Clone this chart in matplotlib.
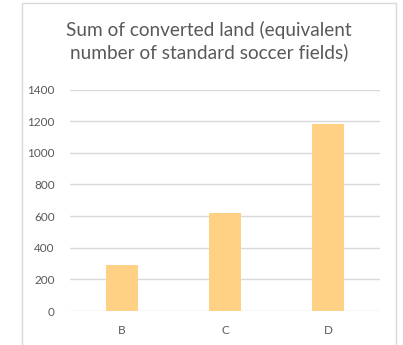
import matplotlib
matplotlib.use('Agg')
import matplotlib.pyplot as plt
from matplotlib.patches import Rectangle

# Data
categories = ['B', 'C', 'D']
values = [290, 620, 1185]
yticks = [0, 200, 400, 600, 800, 1000, 1200, 1400]

W, H = 403, 345
fig = plt.figure(figsize=(W / 100, H / 100), dpi=100)
plt.rcParams['font.family'] = ['Lato', 'DejaVu Sans']

# outer chart border (Excel-style)
fig.patches.append(Rectangle((22 / W, -0.02), (396 - 22) / W, 1.02 - 3 / H,
                             transform=fig.transFigure, fill=False,
                             edgecolor='#D9D9D9', lw=1))

ax = fig.add_axes([70 / W, 1 - 311 / H, (380 - 70) / W, (311 - 89.5) / H])
ax.bar(range(len(categories)), values, width=0.31, color='#FFD185', zorder=2)
ax.set_xlim(-0.5, len(categories) - 0.5)
ax.set_ylim(0, 1400)
ax.set_yticks(yticks)
ax.set_xticks(range(len(categories)))
ax.set_xticklabels(categories)
ax.grid(axis='y', color='#D9D9D9', lw=1, zorder=0)
for s in ax.spines.values():
    s.set_visible(False)
ax.tick_params(length=0, colors='#595959', labelsize=8.5)
ax.tick_params(axis='y', pad=11)
ax.tick_params(axis='x', pad=10)

fig.text(209 / W, 1 - 21 / H,
         'Sum of converted land (equivalent\nnumber of standard soccer fields)',
         ha='center', va='top', fontsize=13.7, color='#595959', linespacing=1.3)

fig.savefig('out.png', dpi=100)
